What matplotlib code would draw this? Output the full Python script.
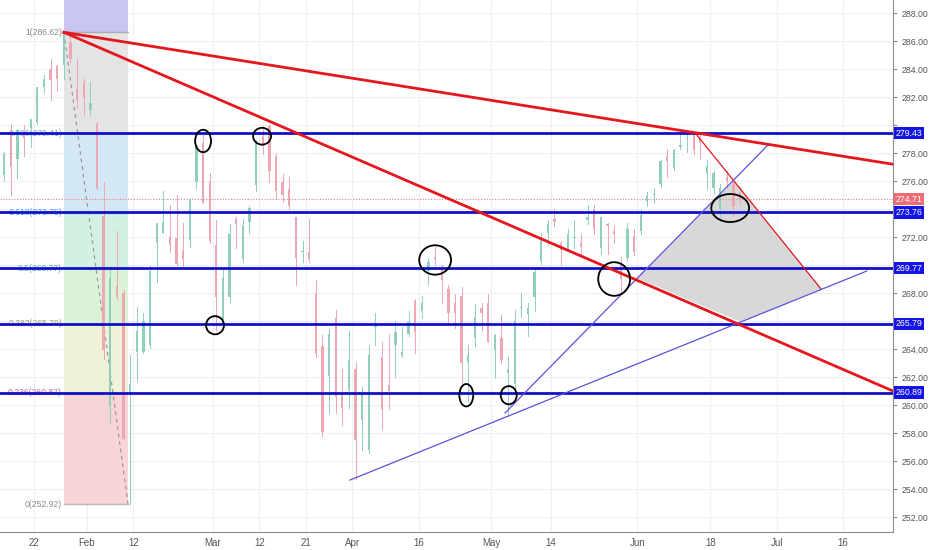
import numpy as np
import matplotlib
matplotlib.use("Agg")
import matplotlib.pyplot as plt
from matplotlib.patches import Ellipse, Polygon
import matplotlib.transforms as mtransforms

# --- daily OHLC ---
dates = ["2018-01-12", "2018-01-16", "2018-01-17", "2018-01-18", "2018-01-19",
         "2018-01-22", "2018-01-23", "2018-01-24", "2018-01-25", "2018-01-26",
         "2018-01-29", "2018-01-30", "2018-01-31", "2018-02-01", "2018-02-02",
         "2018-02-05", "2018-02-06", "2018-02-07", "2018-02-08", "2018-02-09",
         "2018-02-12", "2018-02-13", "2018-02-14", "2018-02-15", "2018-02-16",
         "2018-02-20", "2018-02-21", "2018-02-22", "2018-02-23", "2018-02-26",
         "2018-02-27", "2018-02-28", "2018-03-01", "2018-03-02", "2018-03-05",
         "2018-03-06", "2018-03-07", "2018-03-08", "2018-03-09", "2018-03-12",
         "2018-03-13", "2018-03-14", "2018-03-15", "2018-03-16", "2018-03-19",
         "2018-03-20", "2018-03-21", "2018-03-22", "2018-03-23", "2018-03-26",
         "2018-03-27", "2018-03-28", "2018-03-29", "2018-04-02", "2018-04-03",
         "2018-04-04", "2018-04-05", "2018-04-06", "2018-04-09", "2018-04-10",
         "2018-04-11", "2018-04-12", "2018-04-13", "2018-04-16", "2018-04-17",
         "2018-04-18", "2018-04-19", "2018-04-20", "2018-04-23", "2018-04-24",
         "2018-04-25", "2018-04-26", "2018-04-27", "2018-04-30", "2018-05-01",
         "2018-05-02", "2018-05-03", "2018-05-04", "2018-05-07", "2018-05-08",
         "2018-05-09", "2018-05-10", "2018-05-11", "2018-05-14", "2018-05-15",
         "2018-05-16", "2018-05-17", "2018-05-18", "2018-05-21", "2018-05-22",
         "2018-05-23", "2018-05-24", "2018-05-25", "2018-05-29", "2018-05-30",
         "2018-05-31", "2018-06-01", "2018-06-04", "2018-06-05", "2018-06-06",
         "2018-06-07", "2018-06-08", "2018-06-11", "2018-06-12", "2018-06-13",
         "2018-06-14", "2018-06-15", "2018-06-18", "2018-06-19", "2018-06-20",
         "2018-06-21", "2018-06-22"]
opens = [276.4, 279.4, 277.6, 279.4, 279.8, 280.2, 282.7, 284.0, 284.2, 284.3,
         285.9, 282.6, 283.0, 281.1, 280.1, 273.5, 259.9, 268.5, 268.0, 260.8,
         263.8, 263.8, 264.3, 271.6, 272.3, 272.0, 271.9, 271.1, 271.8, 275.9,
         278.7, 275.9, 271.4, 265.8, 267.7, 273.3, 270.4, 273.1, 275.7, 279.2,
         279.9, 277.8, 275.9, 275.4, 273.4, 270.9, 270.9, 267.9, 264.2, 262.1,
         266.2, 260.8, 261.1, 262.6, 258.9, 256.8, 265.6, 263.4, 261.4, 264.3,
         263.5, 265.1, 267.4, 266.7, 269.6, 270.6, 269.9, 268.3, 267.3, 267.8,
         263.1, 264.8, 266.9, 267.3, 263.9, 264.8, 262.3, 261.5, 266.9, 266.5,
         267.7, 270.3, 272.3, 273.3, 271.6, 271.1, 271.9, 271.6, 273.2, 273.9,
         271.2, 272.9, 272.4, 270.0, 270.5, 272.1, 272.4, 274.5, 275.0, 275.8,
         277.8, 276.9, 278.4, 279.0, 279.4, 279.1, 276.6, 275.5, 274.0, 276.3,
         275.9, 275.2]
highs = [278.1, 280.1, 279.7, 280.0, 280.4, 282.7, 283.6, 284.7, 284.3, 286.6,
         286.4, 284.7, 283.3, 283.1, 280.2, 275.9, 269.7, 272.4, 268.2, 263.6,
         267.0, 266.6, 269.9, 273.0, 275.3, 274.3, 275.0, 273.0, 274.7, 278.6,
         279.4, 276.6, 273.2, 269.7, 272.9, 273.4, 273.3, 274.2, 278.9, 279.9,
         280.1, 278.0, 276.5, 276.3, 273.4, 271.7, 273.3, 268.9, 265.0, 265.4,
         266.8, 262.6, 265.3, 263.1, 261.3, 264.3, 266.6, 264.5, 265.1, 266.0,
         265.6, 266.7, 267.6, 267.8, 270.5, 271.3, 270.0, 268.6, 267.9, 268.4,
         264.3, 267.2, 267.3, 267.9, 265.1, 266.4, 263.4, 266.8, 268.0, 267.3,
         269.7, 272.3, 273.2, 274.0, 271.7, 272.6, 273.2, 272.2, 274.3, 274.3,
         273.4, 273.0, 272.8, 270.6, 273.0, 272.6, 273.9, 275.2, 275.5, 277.5,
         278.3, 278.3, 279.3, 279.5, 279.5, 279.3, 277.5, 276.7, 275.8, 276.7,
         276.1, 275.6]
lows = [276.0, 275.0, 276.2, 277.8, 278.4, 280.1, 282.3, 281.8, 282.4, 283.3,
        284.5, 281.2, 280.7, 280.7, 275.4, 263.3, 258.7, 267.6, 257.6, 252.9,
        261.7, 263.7, 264.1, 268.8, 272.3, 270.9, 270.0, 269.9, 271.3, 275.4,
        274.4, 271.6, 265.3, 265.6, 267.3, 271.2, 270.2, 272.3, 275.3, 277.9,
        275.9, 274.7, 274.5, 274.0, 268.6, 270.2, 270.2, 263.4, 257.8, 259.4,
        259.4, 258.6, 259.8, 254.7, 256.8, 256.6, 264.3, 258.3, 259.7, 262.0,
        263.4, 264.9, 263.7, 266.2, 268.6, 270.0, 267.3, 265.7, 265.5, 261.5,
        260.2, 264.2, 265.3, 264.5, 261.9, 263.0, 259.2, 261.0, 266.3, 264.9,
        266.7, 270.1, 271.4, 272.8, 270.0, 271.0, 271.2, 270.8, 272.9, 272.2,
        270.8, 270.8, 271.6, 267.9, 270.3, 270.7, 272.2, 274.2, 274.4, 275.6,
        276.3, 276.8, 278.3, 278.1, 277.9, 277.6, 275.4, 275.1, 273.4, 275.6,
        273.5, 274.4]
closes = [277.9, 277.0, 279.6, 279.1, 280.4, 282.7, 283.3, 283.2, 283.3, 286.6,
          284.7, 281.8, 281.9, 281.6, 275.5, 263.9, 269.1, 267.7, 257.6, 261.5,
          265.3, 266.0, 269.6, 273.0, 273.1, 271.4, 270.1, 270.4, 274.7, 278.6,
          274.4, 271.7, 267.7, 269.1, 272.2, 272.9, 272.8, 274.1, 278.9, 278.5,
          276.7, 275.3, 275.0, 274.2, 270.5, 270.9, 270.4, 263.7, 258.1, 265.1,
          260.6, 259.8, 263.2, 257.5, 260.8, 263.6, 265.6, 259.7, 261.0, 265.2,
          263.8, 265.9, 265.2, 267.3, 270.2, 270.4, 268.9, 266.6, 266.6, 263.0,
          263.6, 266.3, 266.6, 264.5, 265.0, 263.2, 262.6, 266.0, 266.9, 266.9,
          269.5, 272.0, 272.9, 273.1, 271.1, 272.2, 272.0, 271.3, 273.4, 272.6,
          273.4, 272.8, 272.2, 269.0, 272.6, 270.9, 273.6, 274.9, 275.1, 277.4,
          277.4, 278.2, 278.6, 279.1, 278.2, 278.7, 277.1, 276.6, 275.5, 276.0,
          274.2, 274.7]
last_price = 274.71

# session calendar (bar index counted from Jan 22)
holidays = ["2018-01-15", "2018-02-19", "2018-03-30", "2018-05-28"]
tick_dates = ["2018-01-22", "2018-02-01", "2018-02-12", "2018-03-01", "2018-03-12",
              "2018-03-21", "2018-04-02", "2018-04-16", "2018-05-01", "2018-05-14",
              "2018-06-01", "2018-06-18", "2018-07-02", "2018-07-16"]
tick_labels = ["22", "Feb", "12", "Mar", "12", "21", "Apr", "16", "May", "14",
               "Jun", "18", "Jul", "16"]

# fib retracement (Jan 26 high -> Feb 9 low)
fib_start = (4.52, 286.62)
fib_end = (14.18, 252.92)
fib_levels = [1.0, 0.786, 0.618, 0.5, 0.382, 0.236, 0.0]
fib_text = ["1(286.62)", "0.786(279.41)", "0.618(273.75)", "0.5(269.77)",
            "0.382(265.79)", "0.236(260.87)", "0(252.92)"]
fib_text_colors = ["#8a8a8a", "#74a6d8", "#4a9fe6", "#5bb3b0", "#98a36a", "#c56b9c", "#8a8a8a"]
fib_fill_colors = ["#c9c7f1", "#e4e4e4", "#d4e7f5", "#d3f1e3", "#dcf2d7", "#eff2d6", "#f7d4d5"]

# user drawn levels and trend lines (bar index, price)
h_levels = [279.43, 273.76, 269.77, 265.79, 260.89]
red_line_a = [(4.52, 286.62), (99.7, 279.45)]
red_line_b = [(4.52, 286.62), (129.56, 261.0)]
red_thin = [(99.7, 279.45), (118.7, 268.29)]
blue_low = [(47.66, 254.64), (125.6, 269.57)]
blue_up = [(71.04, 259.43), (110.7, 278.57)]
gray_zone = [(90.95, 269.07), (105.6, 276.0), (118.7, 268.29), (106.6, 265.93)]
circles = [(25.5, 278.86, 2.4, 1.6), (34.4, 279.2, 2.7, 1.2), (27.3, 265.7, 2.7, 1.3),
           (60.5, 270.36, 4.8, 2.1), (65.2, 260.7, 2.1, 1.6), (71.6, 260.7, 2.4, 1.3),
           (87.5, 269.0, 4.8, 2.4), (105.0, 274.07, 5.7, 2.0)]

x0, x1 = -5.13, 129.56
y0, y1 = 250.93, 288.93

plt.rcParams["font.family"] = ["Liberation Sans", "DejaVu Sans"]
fig = plt.figure(figsize=(9.32, 5.5), dpi=100)
ax = fig.add_axes([0, 18 / 550, 893 / 932, 532 / 550])

idx = np.busday_count("2018-01-22", np.array(dates, dtype="datetime64[D]"), holidays=holidays)
xs = idx + 0.5
tick_x = np.busday_count("2018-01-22", np.array(tick_dates, dtype="datetime64[D]"),
                         holidays=holidays[1:])

# grid
for t in tick_x:
    ax.axvline(t, color="#eef0f4", lw=0.8, zorder=0)
for p in np.arange(252, 289, 2):
    ax.axhline(p, color="#eef0f4", lw=0.8, zorder=0)

# fib box
price_at = [fib_end[1] + lv * (fib_start[1] - fib_end[1]) for lv in fib_levels]
bounds = [y1 + 1] + price_at
for i, col in enumerate(fib_fill_colors):
    ax.fill_between([fib_start[0], fib_end[0]], bounds[i + 1], bounds[i],
                    color=col, lw=0, zorder=1)
for p, txt, col in zip(price_at, fib_text, fib_text_colors):
    ax.plot([fib_start[0], fib_end[0]], [p, p], color=col, lw=1, alpha=0.6, zorder=1.2)
    ax.text(fib_start[0] - 0.3, p, txt, color=col, fontsize=6.2, ha="right", va="center",
            zorder=2)
ax.plot([fib_start[0], fib_end[0]], [fib_start[1], fib_end[1]], color="#9a9a9a",
        lw=0.9, ls=(0, (3, 3)), zorder=1.5)

# gray zone
ax.add_patch(Polygon(gray_zone, closed=True, facecolor="#d6d6d6", edgecolor="none",
                     alpha=0.95, zorder=1.3))

# candles
up_col, dn_col = "#8fd0bc", "#eda6b2"
for x, o, h, l, c in zip(xs, opens, highs, lows, closes):
    col = up_col if c >= o else dn_col
    ax.plot([x, x], [l, h], color=col, lw=0.7, zorder=2)
    ax.bar(x, max(abs(c - o), 0.08), bottom=min(o, c), width=0.35, color=col,
           lw=0, zorder=2)

# last price
ax.axhline(last_price, color="#e57f86", lw=0.8, ls=(0, (1, 1.5)), zorder=2.2)

# horizontal levels
for p in h_levels:
    ax.axhline(p, color="#1010c8", lw=2, zorder=3)


def extend(pts, x_to):
    (xa, ya), (xb, yb) = pts
    k = (yb - ya) / (xb - xa)
    return [xa, x_to], [ya, ya + k * (x_to - xa)]


lx, ly = extend(red_line_a, x1 + 1)
ax.plot(lx, ly, color="#e5161d", lw=2, zorder=3.5)
ax.plot(*zip(*red_line_b), color="#e5161d", lw=2, zorder=3.5)
ax.plot(*zip(*red_thin), color="#e5161d", lw=0.9, zorder=3.4)
ax.plot(*zip(*blue_low), color="#5a52e0", lw=0.9, zorder=3.4)
ax.plot(*zip(*blue_up), color="#5a52e0", lw=0.9, zorder=3.4)

for cx, cy, w, h in circles:
    ax.add_patch(Ellipse((cx, cy), w, h, fill=False, ec="black", lw=1.3, zorder=4))

ax.set_xlim(x0, x1)
ax.set_ylim(y0, y1)

# axes styling
for s in ["top", "left"]:
    ax.spines[s].set_visible(False)
ax.spines["right"].set_color("#8c8c8c")
ax.spines["bottom"].set_color("#8c8c8c")
ax.yaxis.tick_right()
yt = np.arange(252, 289, 2)
ax.set_yticks(yt)
# scale labels hidden behind the price tags are left blank
tags = h_levels + [last_price]
ax.set_yticklabels(["" if min(abs(v - t) for t in tags) < 0.6 else f"{v:.2f}" for v in yt])
ax.set_xticks(tick_x)
ax.set_xticklabels(tick_labels)
ax.tick_params(axis="y", length=3, pad=3, labelsize=6.3, colors="#8c8c8c",
               labelcolor="#555555")
ax.tick_params(axis="x", length=0, pad=4, labelsize=7, labelcolor="#555555")

# price labels on the scale
trans = mtransforms.blended_transform_factory(ax.transAxes, ax.transData)
for p in h_levels:
    ax.text(1.003, p, f"{p:.2f}", transform=trans, color="white", fontsize=6.3,
            ha="left", va="center", clip_on=False, zorder=6,
            bbox=dict(boxstyle="square,pad=0.2", fc="#1414e6", ec="none"))
ax.text(1.003, last_price, f"{last_price:.2f}", transform=trans, color="white",
        fontsize=6.3, ha="left", va="center", clip_on=False, zorder=6,
        bbox=dict(boxstyle="square,pad=0.2", fc="#ef6b76", ec="none"))

fig.savefig("out.png", dpi=100)
